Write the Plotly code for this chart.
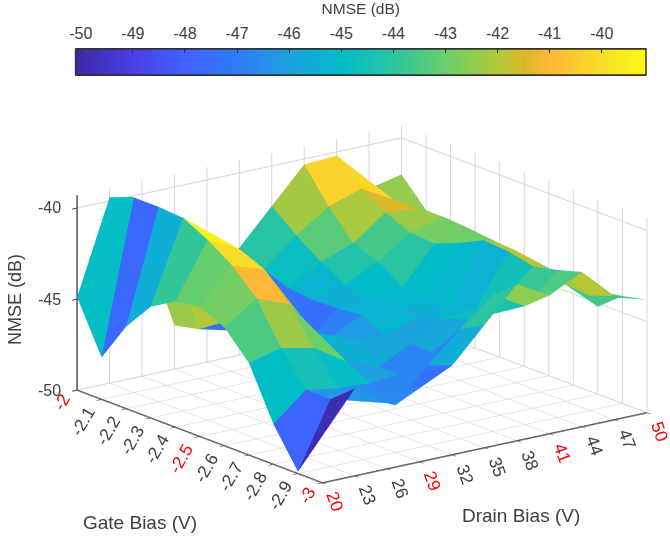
import math
import plotly.graph_objects as go

gate = [-2.0, -2.1, -2.2, -2.3, -2.4, -2.5, -2.6, -2.7, -2.8, -2.9, -3.0]
drain = [20, 23, 26, 29, 32, 35, 38, 41, 44, 47, 50]
gate_labels = ["-2", "-2.1", "-2.2", "-2.3", "-2.4", "-2.5", "-2.6", "-2.7", "-2.8", "-2.9", "-3"]
red_gate = ["-2", "-2.5", "-3"]
red_drain = [20, 29, 41, 50]
z_ticks = [-50, -45, -40]
cbar_ticks = [-50, -49, -48, -47, -46, -45, -44, -43, -42, -41, -40]

# one row per drain bias, one value per gate bias
nmse_20 = [-44.9, -47.7, -45.5, -43.9, -43.1, -42.9, -43.5, -44.95, -47.8, -49.9, -47.4]
nmse_23 = [-39.8, -39.27, -39.3, -39.4, -40.1, -41.0, -42.3, -44.5, -46.3, -46.3, -45.2]
nmse_26 = [-42.3, -42.0, -42.5, -42.5, -41.0, -41.6, -43.0, -44.9, -46.6, -46.6, -46.4]
nmse_29 = [-47.6, -47.3, -46.4, -46.6, -46.0, -45.3, -45.5, -46.0, -46.7, -47.4, -45.9]
nmse_32 = [-47.4, -47.2, -47.3, -47.5, -46.9, -46.1, -45.7, -46.7, -46.7, -45.6, -45.1]
nmse_35 = [-44.1, -44.8, -45.3, -45.45, -45.4, -45.25, -45.9, -45.8, -45.9, -44.0, -43.25]
nmse_38 = [-42.2, -43.3, -44.25, -45.0, -45.2, -45.5, -45.2, -44.8, -44.4, -42.5, -41.4]
nmse_41 = [-40.3, -42.1, -43.6, -44.1, -45.0, -45.2, -45.4, -44.6, -43.8, -43.5, -42.4]
nmse_44 = [-40.2, -41.5, -42.3, -42.9, -43.0, -42.45, -41.8, -41.9, -42.2, -41.9, -41.5]
nmse_47 = [-42.4, -42.5, -42.5, -42.4, -42.5, -42.67, -42.76, -43.0, -43.6, -43.7, -43.2]
nmse_50 = [-42.0, -43.45, -43.5, -43.7, -43.8, -43.9, -44.1, -44.3, -45.2, -44.1, -43.8]
nmse = [nmse_20, nmse_23, nmse_26, nmse_29, nmse_32, nmse_35, nmse_38, nmse_41, nmse_44, nmse_47, nmse_50]

CMIN, CMAX = -50.1, -39.15
stops = [(-50.1, "#3b2aa5"), (-49, "#4a3fe6"), (-48, "#4060ff"), (-47, "#2f7cf8"), (-46, "#1fa0e0"),
         (-45, "#00bcc8"), (-44, "#2cc4a0"), (-43, "#6ccf6a"), (-42, "#b0c83a"), (-41.5, "#d8b82a"),
         (-41, "#ffb835"), (-40, "#f8de28"), (-39.15, "#f8fa10")]
colorscale = [[(v - CMIN) / (CMAX - CMIN), c] for v, c in stops]

nd, ng = len(drain), len(gate)
X, Y, Z, I, J, K, C = [], [], [], [], [], [], []
for d in range(nd):
    for g in range(ng):
        X.append(gate[g]); Y.append(drain[d]); Z.append(nmse[d][g])
for d in range(nd - 1):
    for g in range(ng - 1):
        a = d * ng + g
        b = a + 1
        c = a + ng
        e = c + 1
        I += [a, a]; J += [b, e]; K += [e, c]
        C += [nmse[d][g], nmse[d][g]]

fig = go.Figure(go.Mesh3d(
    x=X, y=Y, z=Z, i=I, j=J, k=K,
    intensity=C, intensitymode="cell", colorscale=colorscale, cmin=CMIN, cmax=CMAX,
    flatshading=True, hoverinfo="skip", showscale=False,
    lighting=dict(ambient=1, diffuse=0, specular=0, roughness=1, fresnel=0),
))

# colour key along a top axis
key_n = 220
key_vals = [CMIN + (CMAX - CMIN) * k / (key_n - 1) for k in range(key_n)]
fig.add_trace(go.Heatmap(x=key_vals, y=[-4, 5], z=[key_vals, key_vals], colorscale=colorscale,
                         zmin=CMIN, zmax=CMAX, showscale=False, hoverinfo="skip",
                         xaxis="x", yaxis="y"))

TEXT = "#404040"
TICK = 17.5
annos = []
for g, lab in zip(gate, gate_labels):
    short = len(lab) == 2
    annos.append(dict(x=g, y=20, z=-50, text=lab, showarrow=False, textangle=-60,
                      xshift=-15 if short else -18, yshift=-12 if short else -22,
                      font=dict(family="Liberation Sans", size=TICK, color="red" if lab in red_gate else TEXT)))
for d in drain:
    annos.append(dict(x=-3, y=d, z=-50, text=str(d), showarrow=False, textangle=70,
                      xshift=13, yshift=-19,
                      font=dict(family="Liberation Sans", size=TICK, color="red" if d in red_drain else TEXT)))
for zv in z_ticks:
    annos.append(dict(x=-2, y=20, z=zv, text=str(zv), showarrow=False, xanchor="right",
                      xshift=-14, font=dict(family="Liberation Sans", size=16, color=TEXT)))

axis = dict(showbackground=False, showline=True, linecolor="#404040", linewidth=3,
            gridcolor="#d4d4d4", gridwidth=2, zeroline=False, showspikes=False,
            showticklabels=False, ticks="outside", ticklen=6, tickcolor="#404040", tickwidth=2,
            title=dict(text=""))

az = math.radians(52.9)
el = math.radians(16.6)
dist = 1.9
eye = dict(x=dist * math.cos(el) * math.sin(az), y=-dist * math.cos(el) * math.cos(az), z=dist * math.sin(el))

fig.update_layout(
    width=670, height=537, margin=dict(l=0, r=0, t=0, b=0, autoexpand=False),
    paper_bgcolor="white", plot_bgcolor="white", showlegend=False,
    xaxis=dict(domain=[75.6 / 670, 646 / 670], range=[CMIN, CMAX], side="top", anchor="y",
               tickvals=cbar_ticks, ticktext=[str(v) for v in cbar_ticks],
               ticks="inside", ticklen=4, tickcolor="#333333", tickwidth=1,
               ticklabelstandoff=3,
               showline=True, linecolor="#333333", linewidth=1, mirror=True, showgrid=False, zeroline=False,
               fixedrange=True,
               tickfont=dict(family="Liberation Sans", size=16, color=TEXT),
               title=dict(text="NMSE (dB)", standoff=8, font=dict(family="Liberation Sans", size=15.5, color=TEXT))),
    yaxis=dict(domain=[1 - 75 / 537, 1 - 49 / 537], range=[0, 1], showticklabels=False, ticks="",
               showline=False, showgrid=False, zeroline=False,
               fixedrange=True, anchor="x"),
    scene=dict(
        domain=dict(x=[0.08, 1.0], y=[0.0, 0.868]),
        aspectmode="manual", aspectratio=dict(x=1.746, y=1.746, z=0.873),
        xaxis=dict(axis, range=[-2, -3], tickvals=gate),
        yaxis=dict(axis, range=[20, 50], tickvals=drain),
        zaxis=dict(axis, range=[-50, -39.3], tickvals=z_ticks),
        camera=dict(eye=eye, center=dict(x=0, y=0, z=0), up=dict(x=0, y=0, z=1),
                    projection=dict(type="orthographic")),
        annotations=annos,
        dragmode=False,
    ),
    annotations=[
        dict(text="Gate Bias (V)", x=140 / 670, y=1 - 522 / 537, xref="paper", yref="paper", showarrow=False,
             xanchor="center", yanchor="middle", font=dict(family="Liberation Sans", size=19, color=TEXT)),
        dict(text="Drain Bias (V)", x=521 / 670, y=1 - 515 / 537, xref="paper", yref="paper", showarrow=False,
             xanchor="center", yanchor="middle", font=dict(family="Liberation Sans", size=19, color=TEXT)),
        dict(text="NMSE (dB)", x=15 / 670, y=1 - 300 / 537, xref="paper", yref="paper", showarrow=False,
             xanchor="center", yanchor="middle", textangle=-90,
             font=dict(family="Liberation Sans", size=18, color=TEXT)),
    ],
    shapes=[dict(type="rect", xref="x domain", yref="y domain", x0=0, x1=1, y0=0, y1=1,
                 line=dict(color="#333333", width=1.5), fillcolor="rgba(0,0,0,0)")],
)
fig.write_html("out.html", config={"displayModeBar": False},
               post_script="document.body.style.margin='0';document.body.style.overflow='hidden';")
